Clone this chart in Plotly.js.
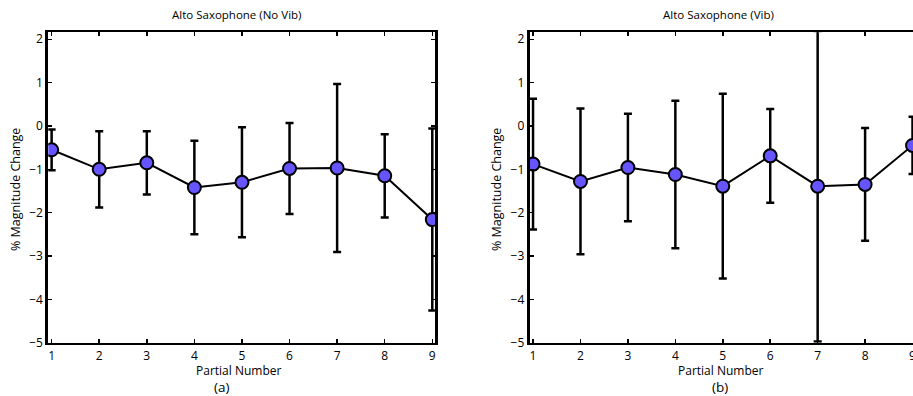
<!DOCTYPE html>
<html>
<head>
<meta charset="utf-8">
<script src="https://cdn.plot.ly/plotly-3.0.1.min.js"></script>
<style>html,body{margin:0;padding:0;background:#fff;}#plot{width:913px;height:396px;}</style>
</head>
<body>
<div id="plot"></div>
<script>
const partials = [1, 2, 3, 4, 5, 6, 7, 8, 9];
const noVibMean = [-0.55, -1.00, -0.85, -1.42, -1.30, -0.98, -0.97, -1.15, -2.16];
const noVibErr  = [0.47, 0.88, 0.73, 1.08, 1.27, 1.05, 1.94, 0.96, 2.10];
const vibMean   = [-0.88, -1.28, -0.96, -1.12, -1.39, -0.69, -1.39, -1.35, -0.45];
const vibErr    = [1.51, 1.68, 1.24, 1.70, 2.13, 1.08, 3.58, 1.30, 0.66];
const yTicks = [-5, -4, -3, -2, -1, 0, 1, 2];
const xTicks = [1, 2, 3, 4, 5, 6, 7, 8, 9];

const FONT = '"Open Sans", "DejaVu Sans", sans-serif';
const markerColor = '#6655ff';

function trace(y, err, xa, ya) {
  return {
    x: partials, y: y, xaxis: xa, yaxis: ya,
    type: 'scatter', mode: 'lines+markers',
    line: {color: '#000', width: 2},
    marker: {color: markerColor, size: 13, line: {color: '#000', width: 2}},
    error_y: {type: 'data', array: err, visible: true, color: '#000', thickness: 2.5, width: 4},
    showlegend: false, hoverinfo: 'none'
  };
}

const data = [
  trace(noVibMean, noVibErr, 'x', 'y'),
  trace(vibMean, vibErr, 'x2', 'y2')
];

function xax(domain, range, anchor, mirror) {
  return {
    domain: domain, range: range, anchor: anchor,
    tickmode: 'array', tickvals: xTicks, ticktext: xTicks.map(String),
    ticks: 'inside', ticklen: 4, tickwidth: 1.5, tickcolor: '#000',
    showline: true, linecolor: '#000', linewidth: 2.5, mirror: mirror,
    showgrid: false, zeroline: false, ticklabeloverflow: 'allow',
    tickfont: {family: FONT, size: 12, color: '#000'}
  };
}
function yax(domain, anchor, mirror) {
  return {
    domain: domain, range: [-5, 2.16], anchor: anchor,
    tickmode: 'array', tickvals: yTicks, ticktext: yTicks.map(v => v < 0 ? '\u2212' + Math.abs(v) : String(v)),
    ticks: 'inside', ticklen: 4, tickwidth: 1.5, tickcolor: '#000',
    showline: true, linecolor: '#000', linewidth: 3, mirror: mirror,
    showgrid: false, zeroline: false,
    tickfont: {family: FONT, size: 12, color: '#000'}
  };
}

const yDom = [0.1346, 0.9184];
const layout = {
  width: 913, height: 396,
  margin: {l: 0, r: 0, t: 0, b: 0},
  paper_bgcolor: '#fff', plot_bgcolor: '#fff',
  font: {family: FONT, color: '#000'},
  xaxis: xax([0.0529, 0.4764], [0.93, 9.056], 'y', 'ticks'),
  yaxis: yax(yDom, 'x', 'ticks'),
  xaxis2: xax([0.5802, 1.0], [0.93, 9.01], 'y2', 'ticks'),
  yaxis2: yax(yDom, 'x2', false),
  annotations: [
    {text: 'Alto Saxophone (No Vib)', x: 236, y: 15, size: 11.5},
    {text: 'Alto Saxophone (Vib)', x: 718, y: 15, size: 11.5},
    {text: 'Partial Number', x: 239, y: 370, size: 12},
    {text: 'Partial Number', x: 720, y: 370, size: 12},
    {text: '(a)', x: 221, y: 387, size: 13.5},
    {text: '(b)', x: 720, y: 387, size: 13.5},
    {text: '% Magnitude Change', x: 15, y: 190, size: 12.5, rot: -90},
    {text: '% Magnitude Change', x: 496, y: 190, size: 12.5, rot: -90}
  ].map(a => ({
    text: a.text, xref: 'paper', yref: 'paper',
    x: a.x / 913, y: 1 - a.y / 396, xanchor: 'center', yanchor: 'middle',
    showarrow: false, textangle: a.rot || 0,
    font: {family: FONT, size: a.size || 11, color: '#000'}
  }))
};

Plotly.newPlot('plot', data, layout, {staticPlot: true, displayModeBar: false});
</script>
</body>
</html>
